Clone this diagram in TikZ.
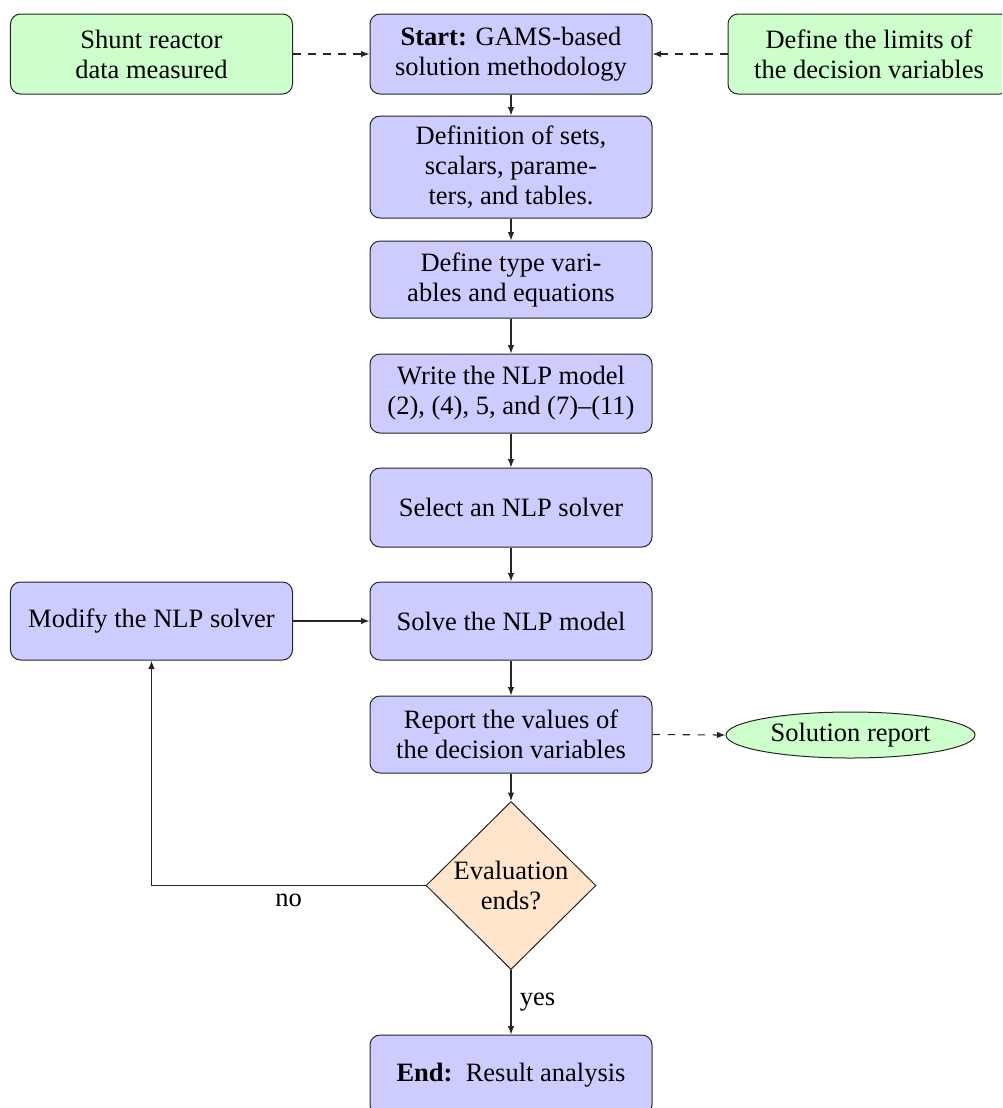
\documentclass[tikz,border=0pt]{standalone}
\usepackage{fontspec}
\setmainfont{Liberation Serif}
\usetikzlibrary{shapes.geometric,arrows.meta}
\tikzset{
  base/.style={draw=black!85, rounded corners=4pt, align=center, inner sep=2pt,
    font=\fontsize{10.6}{12}\selectfont, minimum width=112.8pt},
  procbox/.style={base, fill=blue!20},
  inbox/.style={base, fill=green!20},
  decbox/.style={diamond, draw=black!85, fill=orange!20, align=center, inner sep=0pt,
    minimum width=68pt, minimum height=67.2pt, font=\fontsize{10.6}{12}\selectfont},
  outell/.style={ellipse, draw=black!85, fill=green!20, inner sep=0pt,
    minimum width=99.6pt, minimum height=18.4pt, font=\fontsize{10.6}{12}\selectfont},
  arr/.style={-{Latex[length=3.4pt,width=2.6pt]}, draw=black!85, line width=0.45pt},
  darr/.style={arr, dashed},
  lbl/.style={font=\fontsize{10.6}{12}\selectfont}
}
\begin{document}
\begin{tikzpicture}[x=0.4pt,y=-0.4pt]
\useasboundingbox (0,0) rectangle (1002,1108);
\clip (0,0) rectangle (1002,1108);
\node[procbox, minimum height=32pt] (start) at (511,54) {\textbf{Start:} GAMS-based\\solution methodology};
\node[inbox, minimum height=32pt] (shunt) at (151.5,54) {Shunt reactor\\data measured};
\node[inbox, minimum height=32pt] (limits) at (869,54) {Define the limits of\\the decision variables};
\node[procbox, minimum height=40.8pt] (defs) at (511,167) {Definition of sets,\\scalars, parame-\\ters, and tables.};
\node[procbox, minimum height=30.8pt] (types) at (511,279.5) {Define type vari-\\ables and equations};
\node[procbox, minimum height=31.6pt] (write) at (511,393.5) {Write the NLP model\\(2), (4), 5, and (7)--(11)};
\node[procbox, minimum height=31.6pt] (select) at (511,507.5) {Select an NLP solver};
\node[procbox, minimum height=31.2pt] (solve) at (511,621) {Solve the NLP model};
\node[procbox, minimum height=31.2pt] (modify) at (151.5,621) {Modify the NLP solver};
\node[procbox, minimum height=30.8pt] (report) at (511,734.5) {Report the values of\\the decision variables};
\node[outell] (solrep) at (850.5,735) {Solution report};
\node[decbox] (eval) at (511,885.5) {Evaluation\\ends?};
\node[procbox, minimum height=32pt] (endn) at (511,1075) {\textbf{End:}\ \ Result analysis};

\draw[darr] (shunt.east) -- (start.west);
\draw[darr] (limits.west) -- (start.east);
\draw[arr] (start.south) -- (defs.north);
\draw[arr] (defs.south) -- (types.north);
\draw[arr] (types.south) -- (write.north);
\draw[arr] (write.south) -- (select.north);
\draw[arr] (select.south) -- (solve.north);
\draw[arr] (modify.east) -- (solve.west);
\draw[arr] (solve.south) -- (report.north);
\draw[darr] (report.east) -- (solrep.west);
\draw[arr] (report.south) -- (eval.north);
\draw[arr] (eval.west) -- node[lbl, below] {no} (modify.south |- eval.west) -- (modify.south);
\draw[arr] (eval.south) -- node[lbl, right] {yes} (endn.north);
\end{tikzpicture}
\end{document}
